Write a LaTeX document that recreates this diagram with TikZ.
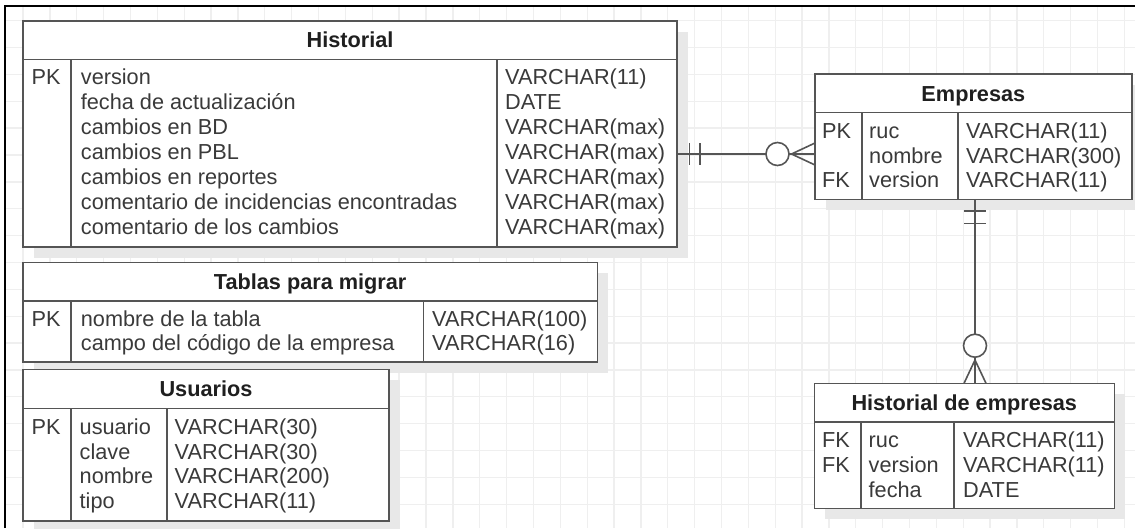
\documentclass[tikz,border=0pt]{standalone}
\usepackage{fontspec}
\setmainfont{Liberation Sans}
\usetikzlibrary{calc}

\definecolor{tblline}{HTML}{555555}
\definecolor{connline}{HTML}{555555}
\definecolor{celltext}{HTML}{3A3A3A}
\definecolor{hdrtext}{HTML}{1F1F1F}
\definecolor{shadowcol}{HTML}{E8E8E8}
\definecolor{gridcol}{HTML}{EFEFEF}

\newcommand\erfont{\fontsize{21.7}{25}\selectfont}

\pgfdeclarelayer{gridlayer}
\pgfdeclarelayer{shadowlayer}
\pgfsetlayers{gridlayer,shadowlayer,main}

\tikzset{
  tbl/.style={draw=tblline, line width=1.6pt, fill=white, inner sep=0pt,
    outer sep=0pt, anchor=north west},
  rule/.style={draw=tblline, line width=1.6pt},
  conn/.style={draw=connline, line width=1.6pt},
  gridline/.style={draw=gridcol, line width=1.3pt},
  hdr/.style={font=\erfont\bfseries, text=hdrtext, inner sep=0pt, anchor=base},
  cell/.style={font=\erfont, text=celltext, inner sep=0pt, anchor=base west},
}

% table frame: name, left, top, width, height, header height, divider 1, divider 2
\newcommand\ertable[8]{%
  \node[tbl, minimum width=#4pt, minimum height=#5pt] (#1) at (#2,#3) {};
  \begin{pgfonlayer}{shadowlayer}
    \fill[shadowcol] ($(#1.north west)+(11,11)$) rectangle ($(#1.south east)+(11,11)$);
  \end{pgfonlayer}
  \draw[rule] ($(#1.north west)+(0,#6)$) -- ($(#1.north east)+(0,#6)$);
  \draw[rule] ($(#1.north west)+(#7,#6)$) -- ($(#1.south west)+(#7,0)$);
  \draw[rule] ($(#1.north west)+(#8,#6)$) -- ($(#1.south west)+(#8,0)$);
}

% one column of rows: name prefix, x, first baseline, row step, entries
\newcommand\ercol[5]{%
  \foreach \t [count=\i] in {#5}
    \node[cell] (#1\i) at (#2,{#3+#4*(\i-1)}) {\t};
}

\begin{document}
\begin{tikzpicture}[x=1pt, y=-1pt]
\useasboundingbox (0,0) rectangle (1135,528);

% background grid
\begin{pgfonlayer}{gridlayer}
  \foreach \k in {0,...,41}
    \draw[gridline] ({23.1+26.86*\k},6) -- ({23.1+26.86*\k},528);
  \foreach \k in {0,...,18}
    \draw[gridline] (5,{20.7+26.86*\k}) -- (1135,{20.7+26.86*\k});
\end{pgfonlayer}

% frame
\draw[line width=2pt, black] (5,528) -- (5,6) -- (1135,6);

% Historial
\ertable{hist}{23}{20.7}{654}{226}{38.6}{47.7}{473.7}
\node[hdr] (hist-t) at ($(hist.north)+(0,27.1)$) {Historial};
\node[cell] (hist-k1) at (31.5,84.5) {PK};
\ercol{hist-f}{80.7}{84.5}{25}{version, fecha de actualización, cambios en BD,
  cambios en PBL, cambios en reportes, comentario de incidencias encontradas,
  comentario de los cambios}
\ercol{hist-d}{505}{84.5}{25}{VARCHAR(11), DATE, VARCHAR(max), VARCHAR(max),
  VARCHAR(max), VARCHAR(max), VARCHAR(max)}

% Tablas para migrar
\ertable{tab}{23}{262.3}{574.3}{99.4}{38.7}{47.7}{400.3}
\node[hdr] (tab-t) at ($(tab.north)+(0,27.2)$) {Tablas para migrar};
\node[cell] (tab-k1) at (31.5,326.2) {PK};
\ercol{tab-f}{80.7}{326.2}{24.4}{nombre de la tabla, campo del código de la empresa}
\ercol{tab-d}{432}{326.2}{24.4}{VARCHAR(100), VARCHAR(16)}

% Usuarios
\ertable{usr}{23}{369.3}{366}{151.4}{39}{47.7}{143.7}
\node[hdr] (usr-t) at ($(usr.north)+(0,27.3)$) {Usuarios};
\node[cell] (usr-k1) at (31.5,434.5) {PK};
\ercol{usr-f}{79.5}{434.5}{24.7}{usuario, clave, nombre, tipo}
\ercol{usr-d}{174.5}{434.5}{24.7}{VARCHAR(30), VARCHAR(30), VARCHAR(200), VARCHAR(11)}

% Empresas
\ertable{emp}{815}{74}{316.7}{125.3}{38.3}{46.7}{142.7}
\node[hdr] (emp-t) at ($(emp.north)+(0,27)$) {Empresas};
\node[cell] (emp-k1) at (822,138.5) {PK};
\node[cell] (emp-k3) at (822,187.8) {FK};
\ercol{emp-f}{869}{138.5}{24.65}{ruc, nombre, version}
\ercol{emp-d}{966}{138.5}{24.65}{VARCHAR(11), VARCHAR(300), VARCHAR(11)}

% Historial de empresas
\ertable{hemp}{814.3}{383.3}{300}{125}{38.4}{46.4}{139.7}
\node[hdr] (hemp-t) at ($(hemp.north)+(0,27)$) {Historial de empresas};
\node[cell] (hemp-k1) at (822,447.8) {FK};
\node[cell] (hemp-k2) at (822,472.4) {FK};
\ercol{hemp-f}{868.5}{447.8}{24.65}{ruc, version, fecha}
\ercol{hemp-d}{963}{447.8}{24.65}{VARCHAR(11), VARCHAR(11), DATE}

% Historial (one, mandatory) to Empresas (zero or many)
\coordinate (j1) at (0,154);
\draw[conn] (hist.east |- j1) -- (emp.west |- j1);
\draw[conn] ($(hist.east |- j1)+(12.3,-11)$) -- ++(0,22);
\draw[conn] ($(hist.east |- j1)+(23,-11)$) -- ++(0,22);
\draw[conn, fill=white] ($(emp.west |- j1)+(-37.5,0)$) circle[radius=11.5];
\draw[conn] ($(emp.west |- j1)+(0,-11)$) -- ($(emp.west |- j1)+(-23.5,0)$)
  -- ($(emp.west |- j1)+(0,11)$);

% Empresas (one, mandatory) to Historial de empresas (zero or many)
\coordinate (j2) at (975,0);
\draw[conn] (emp.south -| j2) -- (hemp.north -| j2);
\draw[conn] ($(emp.south -| j2)+(-11,11.7)$) -- ++(22,0);
\draw[conn] ($(emp.south -| j2)+(-11,24)$) -- ++(22,0);
\draw[conn, fill=white] ($(hemp.north -| j2)+(0,-37.6)$) circle[radius=11.5];
\draw[conn] ($(hemp.north -| j2)+(-11,0)$) -- ($(hemp.north -| j2)+(0,-23.3)$)
  -- ($(hemp.north -| j2)+(11,0)$);

\end{tikzpicture}
\end{document}
